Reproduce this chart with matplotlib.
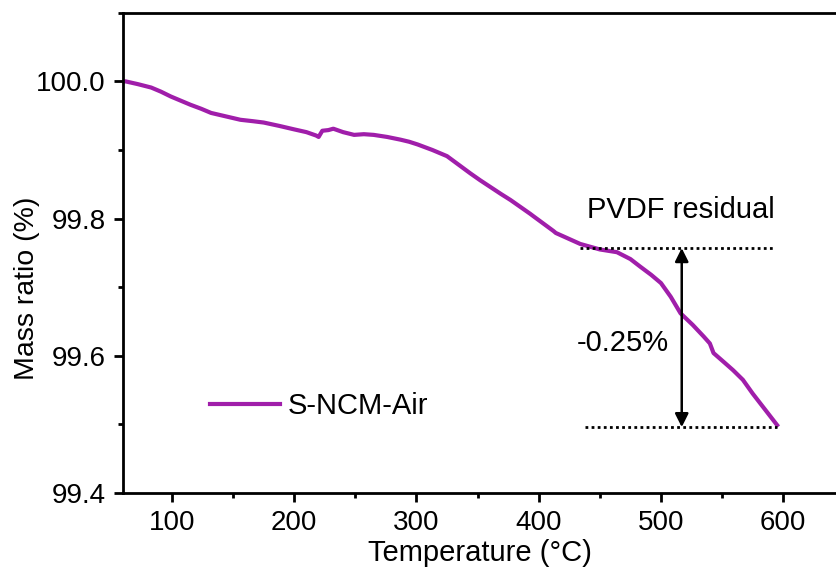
import matplotlib
matplotlib.use("Agg")
import matplotlib.pyplot as plt
from matplotlib.ticker import MultipleLocator

plt.rcParams['font.family'] = ['Liberation Sans', 'DejaVu Sans']

# TGA curve
temperature = [60, 62, 72, 83, 91, 99, 107, 115, 124, 132, 144, 156, 166, 175,
               188, 200, 210, 218, 220, 223, 228, 232, 240, 249, 257, 265,
               276, 287, 294, 301, 313, 325, 344, 352, 369, 377, 393, 396,
               412, 414, 434, 450, 464, 475, 483, 492, 500, 508, 516, 526,
               535, 540, 543, 552, 559, 567, 575, 585, 595]
mass = [100.0, 100.0, 99.996, 99.991, 99.985, 99.978, 99.972, 99.966, 99.960,
        99.954, 99.949, 99.944, 99.942, 99.940, 99.935, 99.930, 99.926,
        99.921, 99.919, 99.928, 99.929, 99.931, 99.926, 99.922, 99.923,
        99.922, 99.919, 99.915, 99.912, 99.908, 99.900, 99.891, 99.866,
        99.856, 99.836, 99.827, 99.807, 99.803, 99.782, 99.779, 99.763,
        99.755, 99.751, 99.741, 99.730, 99.718, 99.706, 99.686, 99.662,
        99.645, 99.628, 99.618, 99.604, 99.590, 99.579, 99.565, 99.545,
        99.522, 99.499]

upper_level = 99.757
lower_level = 99.496
upper_span = [434, 592]
lower_span = [438, 595]
arrow_x = 517

fig = plt.figure(figsize=(8.37, 5.8), dpi=100)
ax = fig.add_axes([0.147, 0.150, 0.853, 0.828])

ax.plot(temperature, mass, color='#A01EAA', lw=3, label='S-NCM-Air')

ax.plot(upper_span, [upper_level, upper_level], color='black', lw=2, ls=(0, (1, 1.2)))
ax.plot(lower_span, [lower_level, lower_level], color='black', lw=2, ls=(0, (1, 1.2)))
ax.annotate('', xy=(arrow_x, upper_level), xytext=(arrow_x, lower_level),
            arrowprops=dict(arrowstyle='<|-|>', color='black', lw=1.8,
                            mutation_scale=20, shrinkA=0, shrinkB=0))
ax.text(469, 99.619, '-0.25%', fontsize=21, ha='center', va='center')
ax.text(516, 99.813, 'PVDF residual', fontsize=21, ha='center', va='center')

ax.set_xlim(60, 644)
ax.set_ylim(99.4, 100.1)
ax.xaxis.set_major_locator(MultipleLocator(100))
ax.xaxis.set_minor_locator(MultipleLocator(50))
ax.yaxis.set_major_locator(MultipleLocator(0.2))
ax.yaxis.set_minor_locator(MultipleLocator(0.1))
ax.yaxis.set_major_formatter(matplotlib.ticker.FormatStrFormatter('%.1f'))

ax.tick_params(which='major', direction='out', length=6.5, width=2, labelsize=20, pad=6)
ax.tick_params(which='minor', direction='out', length=3.5, width=2)
ax.spines['right'].set_visible(False)
for s in ['left', 'bottom', 'top']:
    ax.spines[s].set_linewidth(2)

ax.set_xlabel('Temperature (°C)', fontsize=21, labelpad=2)
ax.set_ylabel('Mass ratio (%)', fontsize=20.5, va='center')
ax.yaxis.set_label_coords(-0.134, 0.427)

ax.legend(loc='center left', bbox_to_anchor=(0.085, 0.181), frameon=False,
          fontsize=21, handlelength=2.4, handletextpad=0.27)

fig.savefig('out.png', dpi=100)
